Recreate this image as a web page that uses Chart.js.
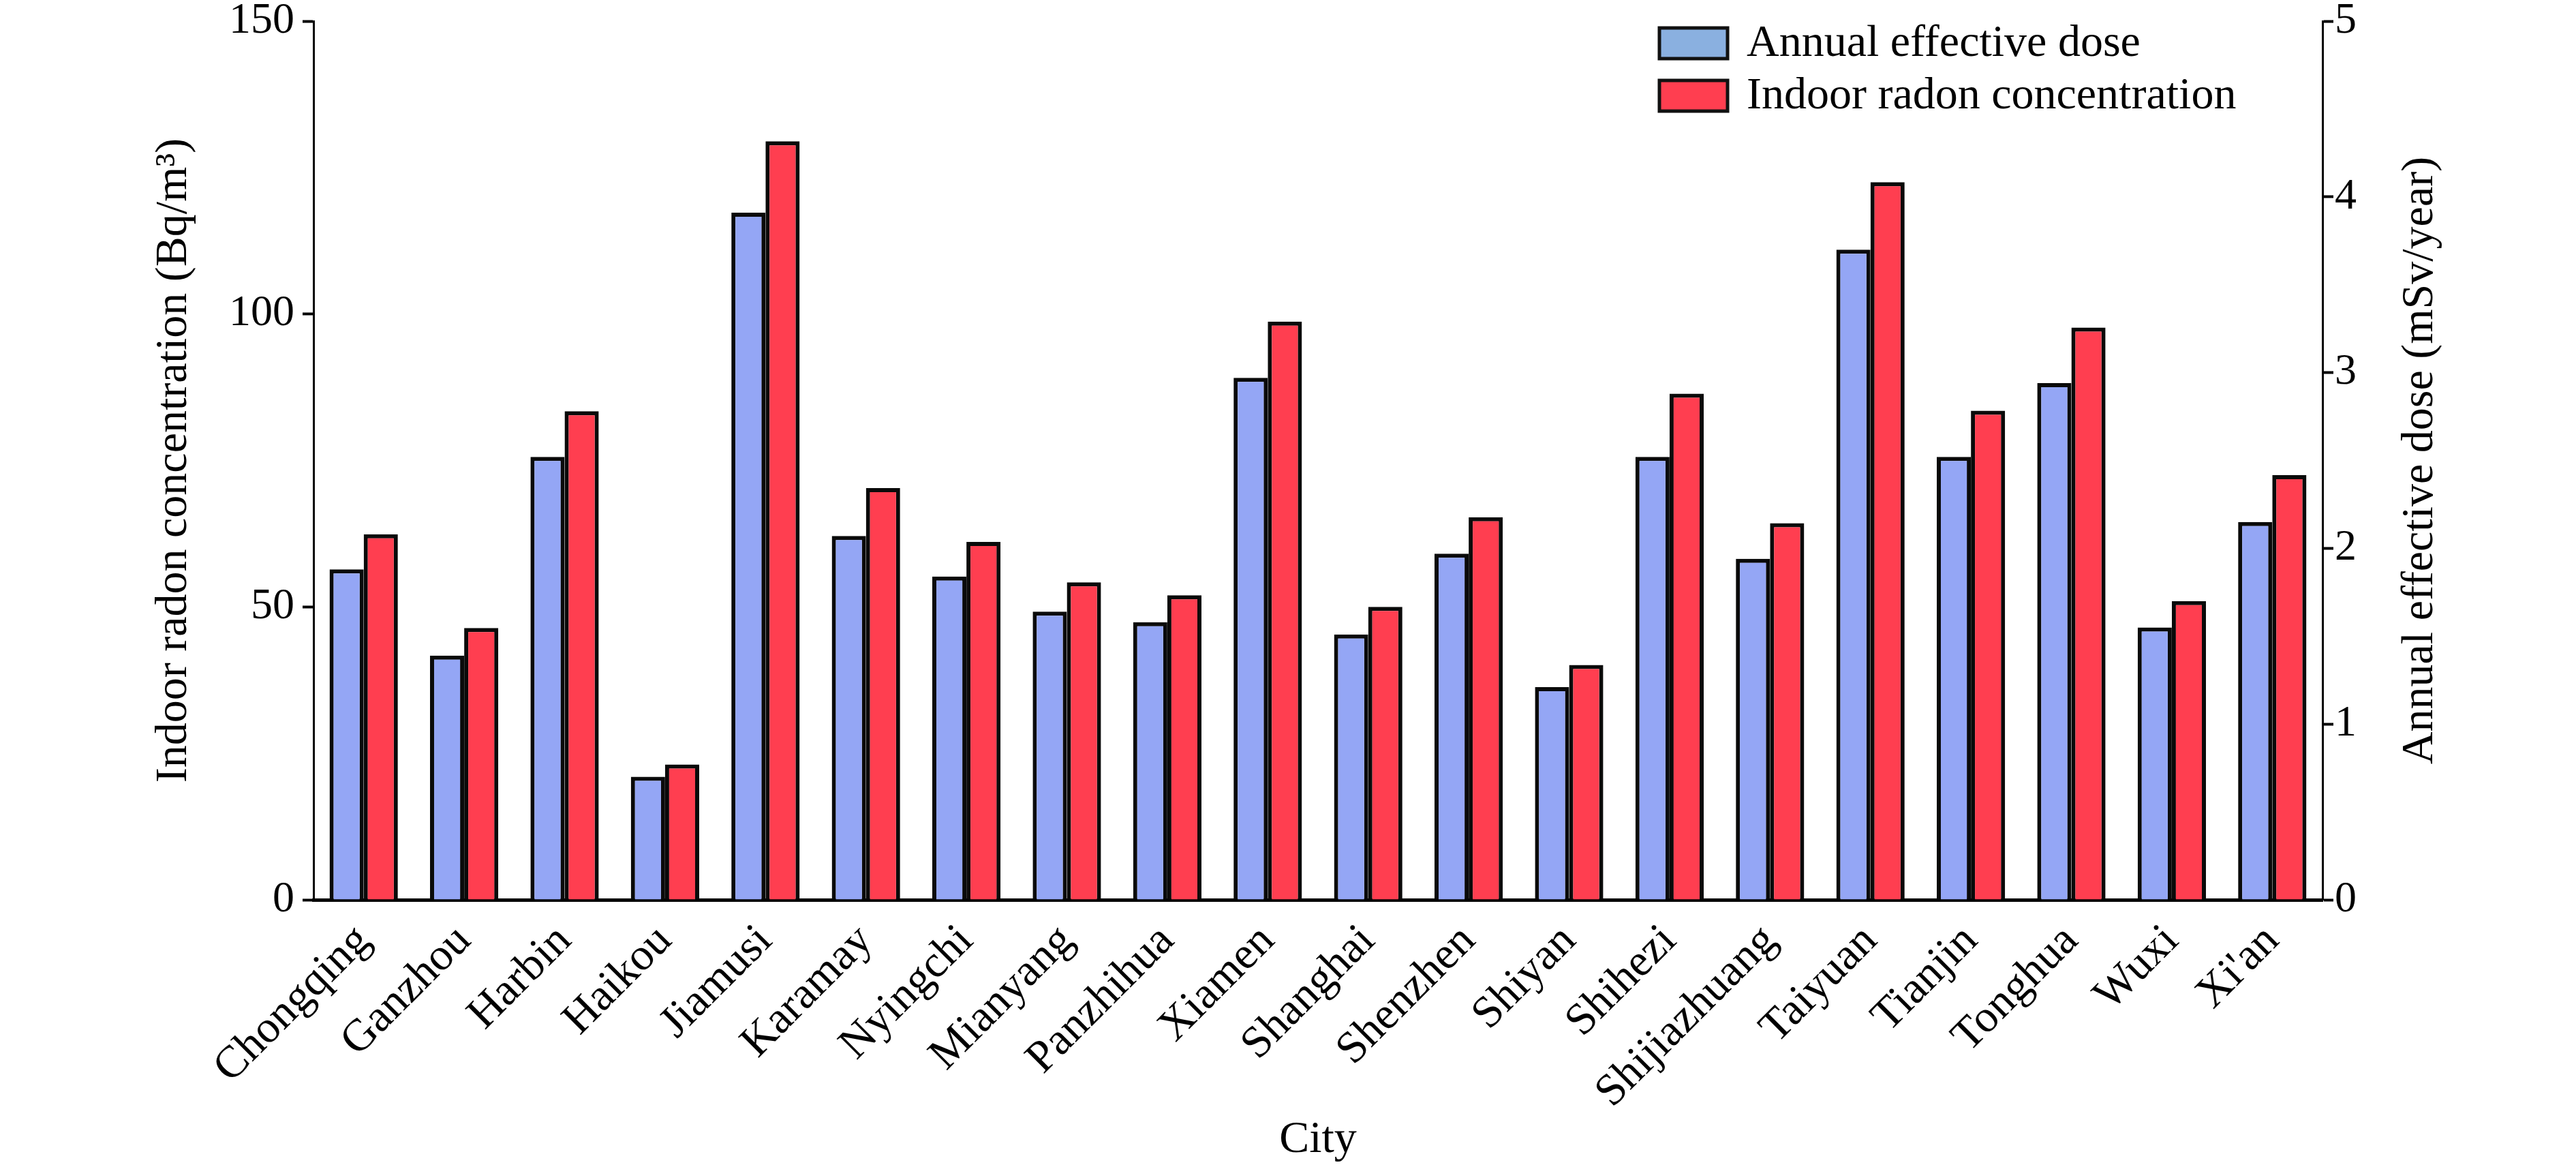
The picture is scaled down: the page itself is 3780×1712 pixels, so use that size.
<!DOCTYPE html>
<html>
<head>
<meta charset="utf-8">
<script src="https://cdn.jsdelivr.net/npm/chart.js@4.4.1/dist/chart.umd.min.js"></script>
<style>
    html, body { margin: 0; padding: 0; background: #ffffff; }
    #wrap { width: 3780px; height: 1712px; position: relative; }
</style>
</head>
<body>
<div id="wrap"><canvas id="radonChart"></canvas></div>
<script>
const cities = ['Chongqing', 'Ganzhou', 'Harbin', 'Haikou', 'Jiamusi', 'Karamay', 'Nyingchi', 'Mianyang',
    'Panzhihua', 'Xiamen', 'Shanghai', 'Shenzhen', 'Shiyan', 'Shihezi', 'Shijiazhuang', 'Taiyuan',
    'Tianjin', 'Tonghua', 'Wuxi', "Xi'an"];

// mSv/year, right axis
const annualDose = [1.88, 1.39, 2.52, 0.70, 3.91, 2.07, 1.84, 1.64, 1.58, 2.97,
    1.51, 1.97, 1.21, 2.52, 1.94, 3.70, 2.52, 2.94, 1.55, 2.15];

// Bq/m3, left axis
const radonConc = [62.4, 46.4, 83.4, 23.1, 129.5, 70.3, 61.1, 54.2, 52.0, 98.7,
    50.0, 65.3, 40.1, 86.4, 64.3, 122.5, 83.5, 97.7, 51.0, 72.5];

const leftTicks = [0, 50, 100, 150];
const rightTicks = [0, 1, 2, 3, 4, 5];

const seriesNames = ['Annual effective dose', 'Indoor radon concentration'];

const FONT = "'Liberation Serif', 'Times New Roman', serif";

// legend drawn inside the plot, top right, like the original figure
const insideLegend = {
    id: 'insideLegend',
    afterDraw(chart) {
        const ctx = chart.ctx;
        const area = chart.chartArea;
        const boxColors = ['#8AB0E0', '#FF3E50'];
        const x0 = area.right - 973;
        const rows = [area.top + 10, area.top + 87];
        ctx.save();
        ctx.font = '66px ' + FONT;
        ctx.textBaseline = 'middle';
        ctx.textAlign = 'left';
        seriesNames.forEach((name, i) => {
            const y = rows[i];
            ctx.fillStyle = boxColors[i];
            ctx.fillRect(x0, y, 100, 45);
            ctx.lineWidth = 5;
            ctx.strokeStyle = '#111111';
            ctx.strokeRect(x0, y, 100, 45);
            ctx.fillStyle = '#000000';
            ctx.fillText(name, x0 + 128, y + 24);
        });
        ctx.restore();
    }
};

// right axis title reads bottom-to-top in the original
const rightTitle = {
    id: 'rightTitle',
    afterDraw(chart) {
        const ctx = chart.ctx;
        const area = chart.chartArea;
        ctx.save();
        ctx.translate(3552, (area.top + area.bottom) / 2);
        ctx.rotate(-Math.PI / 2);
        ctx.font = '66px ' + FONT;
        ctx.fillStyle = '#000000';
        ctx.textAlign = 'center';
        ctx.textBaseline = 'middle';
        ctx.fillText('Annual effective dose (mSv/year)', 0, 0);
        ctx.restore();
    }
};

// let the top tick labels hang over the padding instead of pushing the plot down
function fixWidth(w) {
    return (scale) => {
        scale.width = w;
        scale.paddingTop = 0;
        scale.paddingBottom = 0;
    };
}

function createRadonChart() {
    const canvas = document.getElementById('radonChart');

    const data = {
        labels: cities,
        datasets: [{
            label: seriesNames[0],
            data: annualDose,
            yAxisID: 'y1',
            backgroundColor: '#94A6F5',
            borderColor: '#0A0A0A',
            borderWidth: 6
        }, {
            label: seriesNames[1],
            data: radonConc,
            yAxisID: 'y',
            backgroundColor: '#FF3E50',
            borderColor: '#0A0A0A',
            borderWidth: 6
        }]
    };

    const config = {
        type: 'bar',
        data: data,
        plugins: [insideLegend, rightTitle],
        options: {
            responsive: true,
            maintainAspectRatio: false,
            devicePixelRatio: 1,
            animation: false,
            layout: {
                padding: { top: 31, left: 0, right: 0, bottom: 0 }
            },
            datasets: {
                bar: {
                    barPercentage: 1.0,
                    categoryPercentage: 0.68
                }
            },
            plugins: {
                legend: { display: false },
                tooltip: { enabled: false }
            },
            scales: {
                x: {
                    grid: { display: false },
                    border: { display: true, color: '#000000', width: 5 },
                    ticks: {
                        color: '#000000',
                        font: { family: FONT, size: 66 },
                        minRotation: 45,
                        maxRotation: 45,
                        autoSkip: false,
                        padding: 14
                    },
                    title: {
                        display: true,
                        text: 'City',
                        color: '#000000',
                        font: { family: FONT, size: 66 },
                        padding: { top: 0, bottom: 0 }
                    },
                    afterFit: (scale) => { scale.height = 392; }
                },
                y: {
                    position: 'left',
                    min: 0,
                    max: 150,
                    afterBuildTicks: (scale) => { scale.ticks = leftTicks.map(v => ({ value: v })); },
                    grid: {
                        drawOnChartArea: false,
                        drawTicks: true,
                        tickLength: 16,
                        tickWidth: 4,
                        tickColor: '#000000'
                    },
                    border: { display: true, color: '#000000', width: 3 },
                    ticks: {
                        color: '#000000',
                        font: { family: FONT, size: 64 },
                        padding: 12
                    },
                    title: {
                        display: true,
                        text: 'Indoor radon concentration (Bq/m³)',
                        color: '#000000',
                        font: { family: FONT, size: 66 },
                        padding: { top: 216, bottom: 0 }
                    },
                    afterFit: fixWidth(460)
                },
                y1: {
                    position: 'right',
                    min: 0,
                    max: 5,
                    afterBuildTicks: (scale) => { scale.ticks = rightTicks.map(v => ({ value: v })); },
                    grid: {
                        drawOnChartArea: false,
                        drawTicks: true,
                        tickLength: 16,
                        tickWidth: 4,
                        tickColor: '#000000'
                    },
                    border: { display: true, color: '#000000', width: 3 },
                    ticks: {
                        color: '#000000',
                        font: { family: FONT, size: 64 },
                        padding: 2
                    },
                    afterFit: fixWidth(372)
                }
            }
        }
    };

    canvas.chart = new Chart(canvas, config);
}

createRadonChart();
</script>
</body>
</html>
